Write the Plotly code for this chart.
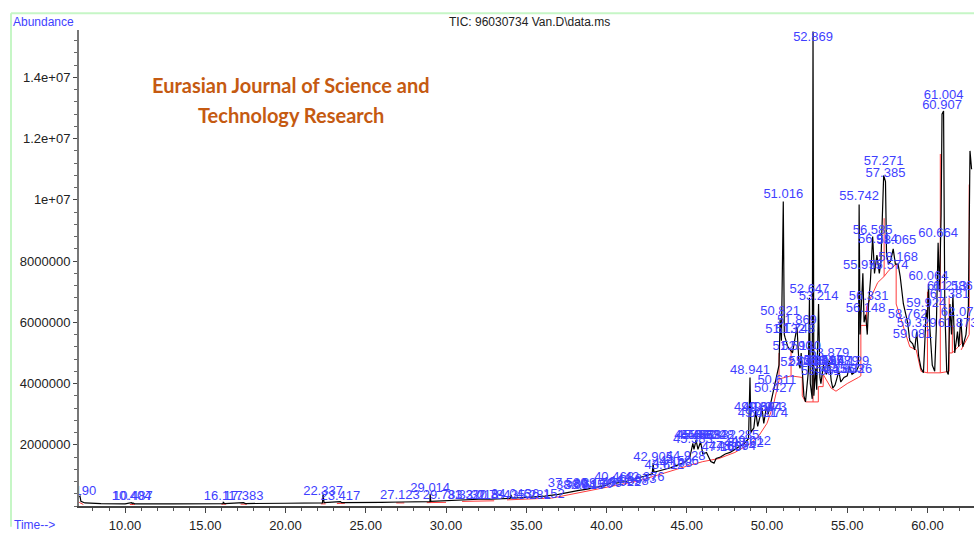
import plotly.graph_objects as go

# --- TIC trace (retention time in min, abundance in millions) ---
tic_time = [
    7.14, 7.19, 7.25, 7.5, 8.5, 10.0, 10.40, 10.45, 10.49, 10.6, 13.0, 16.10, 16.12, 16.2,
    17.38, 17.5, 20.0, 22.30, 22.34, 22.40, 23.42, 23.5, 26.0, 27.12, 27.2, 29.0, 29.01,
    29.05, 29.78, 30.5, 31.32, 32.02, 32.78, 33.5, 34.0, 34.05, 34.1, 35.28, 36.15, 37.0,
    37.58, 38.2, 38.8, 39.4, 40.0, 40.47, 40.6, 41.2, 41.8, 42.4, 42.85, 42.905, 42.95,
    43.5, 44.0, 44.5, 44.93, 45.2, 45.38, 45.45, 45.58, 45.7, 45.86, 46.0, 46.23, 46.5,
    46.7, 46.83, 47.1, 47.4, 47.7, 48.0, 48.3, 48.6, 48.85, 48.941, 49.0, 49.18, 49.3,
    49.42, 49.69, 49.8, 49.97, 50.07, 50.25, 50.43, 50.61, 50.75, 50.82, 50.9, 51.016,
    51.08, 51.13, 51.3, 51.59, 51.75, 51.87, 52.0, 52.063, 52.13, 52.3, 52.4, 52.58,
    52.647, 52.7, 52.82, 52.869, 52.92, 53.04, 53.1, 53.214, 53.3, 53.36, 53.52, 53.7,
    53.88, 54.0, 54.1, 54.24, 54.48, 54.6, 54.8, 55.0, 55.13, 55.3, 55.55, 55.70, 55.742,
    55.80, 55.975, 56.05, 56.148, 56.25, 56.331, 56.45, 56.585, 56.7, 56.85, 57.0, 57.1,
    57.271, 57.385, 57.45, 57.574, 57.7, 57.865, 58.0, 58.168, 58.3, 58.5, 58.762, 58.9,
    59.081, 59.2, 59.329, 59.45, 59.6, 59.75, 59.924, 60.0, 60.064, 60.15, 60.3, 60.45,
    60.55, 60.664, 60.75, 60.85, 60.907, 61.004, 61.08, 61.2, 61.3, 61.4, 61.5, 61.586,
    61.7, 61.873, 61.95, 62.073, 62.2, 62.4, 62.55, 62.65, 62.75,
]
tic_abund = [
    0.30, 0.32, 0.15, 0.10, 0.08, 0.07, 0.11, 0.08, 0.10, 0.07, 0.07, 0.08, 0.12, 0.08,
    0.11, 0.08, 0.09, 0.10, 0.38, 0.11, 0.14, 0.11, 0.12, 0.15, 0.13, 0.14, 0.40,
    0.15, 0.17, 0.17, 0.20, 0.22, 0.22, 0.24, 0.25, 0.36, 0.26, 0.29, 0.32, 0.38,
    0.45, 0.50, 0.55, 0.62, 0.68, 0.82, 0.75, 0.80, 0.88, 0.98, 1.05, 1.40, 1.10,
    1.18, 1.25, 1.35, 1.45, 1.60, 2.05, 1.85, 2.15, 1.85, 2.10, 1.70, 1.75, 1.45,
    1.40, 1.55, 1.60, 1.70, 1.75, 1.85, 1.95, 2.05, 2.20, 4.20, 2.40, 2.55, 3.10,
    2.60, 3.20, 2.70, 3.25, 3.00, 3.40, 3.80, 4.30, 4.60, 6.10, 5.40, 9.95,
    5.60, 5.50, 5.20, 5.00, 5.55, 5.85, 4.60, 4.50, 5.00, 3.60, 3.40, 4.40,
    6.80, 4.00, 3.50, 15.5, 3.60, 4.50, 3.80, 6.60, 4.20, 4.00, 4.60, 4.30,
    4.75, 4.10, 3.85, 3.95, 4.40, 4.05, 4.20, 4.25, 4.55, 4.30, 4.40, 4.55, 9.85,
    5.60, 7.60, 6.00, 6.25, 5.60, 6.60, 7.40, 8.80, 7.60, 8.20, 7.60, 8.00,
    10.8, 10.6, 8.2, 7.90, 8.0, 8.40, 7.9, 7.90, 7.50, 6.60, 6.00, 5.40,
    5.30, 5.10, 5.70, 4.90, 4.50, 4.35, 6.40, 6.10, 7.25, 5.80, 4.60, 4.40,
    5.80, 8.60, 7.00, 9.50, 12.8, 12.9, 6.50, 4.40, 4.30, 6.60, 5.60, 6.90,
    5.00, 5.70, 5.20, 6.10, 5.20, 5.60, 6.50, 11.6, 11.0,
]

# --- integration baseline (red), None = break ---
base_time = [
    7.14, 7.4, None, 10.3, 10.6, None, 16.0, 16.3, None, 17.2, 17.6, None,
    22.2, 22.5, None, 23.2, 23.7, None, 26.9, 27.4, None, 28.8, 30.0, None,
    31.0, 33.0, None,
    33.8, 36.6, 37.0, 38.0, 39.0, 40.0, 41.0, 42.0, 43.0, 44.0, 45.0, 46.0, 47.0,
    48.0, 49.0, 49.5, 50.0, 50.4, 50.75, 50.75, None,
    50.75, 51.5, 51.5, None, 51.5, 52.2, 52.2, 52.4, 52.87, 52.87, None,
    52.87, 53.2, 53.2, 53.5, 53.5, 54.0, 54.3, 55.0, 55.7, 55.85, 55.85, 56.2, 56.2,
    56.9, 57.3, 57.3, None, 57.3, 57.6, 58.05, 58.05, None, 58.05, 58.9, 59.3,
    59.6, 60.0, 60.0, None, 60.0, 60.8, 60.8, None, 60.8, 61.35, 61.35, None,
    61.35, 61.55, 61.55, None, 61.55, 62.1, 62.1, None, 62.1, 62.6, 62.6,
]
base_abund = [
    0.12, 0.05, None, 0.05, 0.05, None, 0.06, 0.06, None, 0.06, 0.06, None,
    0.07, 0.07, None, 0.08, 0.09, None, 0.10, 0.10, None, 0.11, 0.12, None,
    0.15, 0.17, None,
    0.20, 0.26, 0.30, 0.40, 0.50, 0.60, 0.70, 0.82, 0.98, 1.15, 1.30, 1.45, 1.55,
    1.75, 2.05, 2.30, 2.70, 3.30, 4.10, 5.00, None,
    4.15, 4.25, 5.10, None, 4.25, 4.20, 3.60, 3.40, 3.40, 5.20, None,
    3.40, 3.40, 3.90, 3.90, 4.30, 3.85, 3.75, 4.00, 4.20, 4.25, 5.90, 5.90, 6.50,
    7.30, 7.50, 9.40, None, 7.50, 7.70, 7.90, 6.60, None, 6.60, 5.20, 5.10,
    4.40, 4.35, 7.00, None, 4.35, 4.35, 11.5, None, 4.35, 4.40, 6.80, None,
    5.00, 5.00, 5.90, None, 5.00, 5.30, 5.90, None, 5.10, 5.60, 10.5,
]

# --- peak labels: retention time and label height (millions) ---
peak_rt = [
    7.190, 10.404, 10.487, 16.117, 17.383, 22.337, 23.417, 27.123, 29.014, 29.783,
    31.320, 32.018, 32.784, 34.046, 35.281, 36.152, 37.580, 38.094, 38.615, 39.180,
    39.706, 40.468, 40.922, 41.398, 41.873, 42.376, 42.905, 43.612, 44.108, 44.506,
    44.928, 45.383, 45.453, 45.582, 45.863, 46.232, 46.832, 47.165, 47.606, 48.074,
    48.285, 48.562, 49.012, 48.941, 49.184, 49.421, 49.694, 49.973, 50.074, 50.427,
    50.611, 50.821, 51.016, 51.132, 51.748, 51.869, 51.590, 52.130, 52.063, 52.583,
    52.647, 52.869, 53.043, 53.214, 53.361, 53.517, 53.879, 53.998, 54.236, 54.479,
    54.803, 55.129, 55.326, 55.742, 55.975, 56.148, 56.331, 56.585, 56.914, 57.271,
    57.385, 57.574, 58.065, 58.168, 58.762, 59.081, 59.329, 59.924, 60.064, 60.664,
    60.907, 61.004, 61.213, 61.381, 61.586, 61.873, 62.073,
]
label_abund = [
    0.45, 0.29, 0.29, 0.29, 0.29, 0.45, 0.29, 0.32, 0.55, 0.32,
    0.32, 0.32, 0.32, 0.38, 0.32, 0.36, 0.72, 0.65, 0.66, 0.68,
    0.72, 0.93, 0.75, 0.80, 0.85, 0.92, 1.58, 1.30, 1.38, 1.45,
    1.60, 2.15, 2.30, 2.30, 2.30, 2.30, 2.30, 1.90, 1.95, 1.95,
    2.30, 2.05, 2.10, 4.42, 3.20, 3.00, 3.22, 3.22, 3.00, 3.84,
    4.10, 6.35, 10.16, 5.77, 5.77, 6.06, 5.20, 5.20, 4.68, 4.70,
    7.06, 15.30, 4.70, 6.84, 4.40, 4.75, 4.97, 4.70, 4.45, 4.70,
    4.45, 4.70, 4.45, 10.10, 7.84, 6.45, 6.84, 9.00, 8.70, 11.26,
    10.84, 7.84, 8.68, 8.10, 6.26, 5.58, 5.97, 6.60, 7.50, 8.90,
    13.06, 13.40, 7.16, 6.90, 7.16, 5.97, 6.30,
]

y_ticks = [2e6, 4e6, 6e6, 8e6, 1e7, 1.2e7, 1.4e7]
y_tick_text = ["2000000", "4000000", "6000000", "8000000", "1e+07", "1.2e+07", "1.4e+07"]
x_ticks = [10, 15, 20, 25, 30, 35, 40, 45, 50, 55, 60]

W, H = 974, 533
L, T, B = 79, 30, 21
PW, PH = W - L, H - T - B


def px(x):  # pixel x -> paper x
    return (x - L) / PW


def py(y):  # pixel y -> paper y
    return (H - B - y) / PH


M = 1e6
fig = go.Figure()

fig.add_trace(go.Scatter(
    x=base_time, y=[None if a is None else a * M for a in base_abund],
    mode="lines", line=dict(color="#ff3b3b", width=1), connectgaps=False,
    hoverinfo="skip", showlegend=False,
))
fig.add_trace(go.Scatter(
    x=tic_time, y=[a * M for a in tic_abund],
    mode="lines", line=dict(color="black", width=1.2),
    showlegend=False,
))
fig.add_trace(go.Scatter(
    x=peak_rt, y=[a * M for a in label_abund],
    mode="text", text=[f"{t:.3f}" for t in peak_rt],
    textposition="middle center",
    textfont=dict(family="Liberation Sans, Arial", size=13, color="#3f3fff"),
    cliponaxis=True, showlegend=False,
))

font = dict(family="Liberation Sans, Arial", size=13, color="#222")

fig.update_layout(
    width=W, height=H,
    margin=dict(l=L, r=0, t=T, b=B, pad=0),
    paper_bgcolor="white", plot_bgcolor="white",
    showlegend=False,
    font=font,
    xaxis=dict(
        range=[7.13, 62.9], tickvals=x_ticks, tickformat=".2f",
        ticks="outside", ticklen=5, tickcolor="#444", tickwidth=1,
        ticklabelstandoff=2,
        showline=True, linecolor="#444", linewidth=1.5,
        showgrid=False, zeroline=False, tickfont=font,
        minor=dict(dtick=1, tick0=0, ticks="outside", ticklen=3, tickcolor="#555", showgrid=False),
    ),
    yaxis=dict(
        range=[0, 15.55e6], tickvals=y_ticks, ticktext=y_tick_text,
        ticks="outside", ticklen=4, tickcolor="#444", tickwidth=1,
        showline=True, linecolor="#777", linewidth=2,
        showgrid=False, zeroline=False, tickfont=font,
        minor=dict(dtick=4e5, tick0=0, ticks="outside", ticklen=3, tickcolor="#666", showgrid=False),
    ),
    shapes=[
        dict(type="line", xref="paper", yref="paper", x0=px(11), x1=1.0, y0=py(13), y1=py(13),
             line=dict(color="#c6f6c6", width=2)),
        dict(type="line", xref="paper", yref="paper", x0=px(11), x1=px(11), y0=py(13), y1=py(533),
             line=dict(color="#c6f6c6", width=2)),
    ],
    annotations=[
        dict(text="TIC: 96030734 Van.D\\data.ms", xref="paper", yref="paper",
             x=px(529), y=py(22), showarrow=False, xanchor="center", yanchor="middle",
             font=dict(family="Liberation Sans, Arial", size=12, color="#222")),
        dict(text="Abundance", xref="paper", yref="paper", x=px(11), y=py(22),
             showarrow=False, xanchor="left", yanchor="middle",
             font=dict(family="Liberation Sans, Arial", size=12, color="#3f3fff")),
        dict(text="Time-->", xref="paper", yref="paper", x=px(12), y=py(531),
             showarrow=False, xanchor="left", yanchor="middle",
             font=dict(family="Liberation Sans, Arial", size=12, color="#3f3fff")),
        dict(text="<b>Eurasian Journal of Science and</b>", xref="paper", yref="paper",
             x=px(291), y=py(86), showarrow=False, xanchor="center", yanchor="middle",
             font=dict(family="Lato, Open Sans", size=20, color="#c55a11")),
        dict(text="<b>Technology Research</b>", xref="paper", yref="paper",
             x=px(291), y=py(116), showarrow=False, xanchor="center", yanchor="middle",
             font=dict(family="Lato, Open Sans", size=20, color="#c55a11")),
    ],
)

fig.write_html("out.html", config={"displayModeBar": False},
               post_script="document.body.style.margin='0';")
